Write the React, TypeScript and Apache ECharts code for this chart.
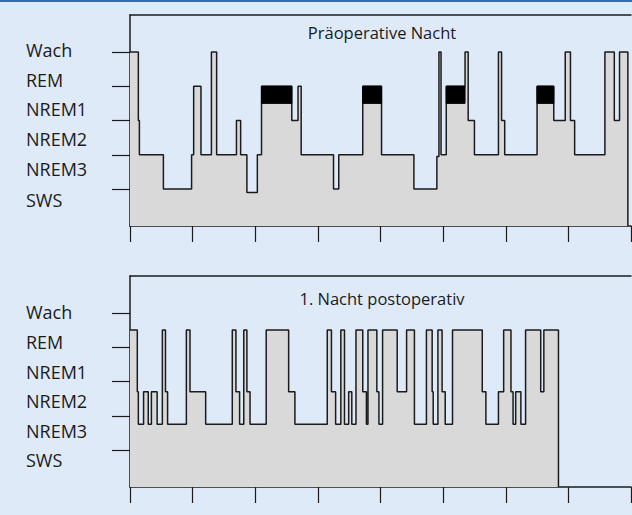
import React, { useEffect, useRef } from "react";
import * as echarts from "echarts";

// Stage labels (left side, top to bottom)
const stageLabels = ["Wach", "REM", "NREM1", "NREM2", "NREM3", "SWS"];
const stageTickValues = [1, 2, 3, 4, 5];
const panelTitles = ["Präoperative Nacht", "1. Nacht postoperativ"];

// x: minutes since start of recording (8 h window)
const hourTicks = [0, 60, 120, 180, 240, 300, 360, 420, 480];

// Preoperative night: time at which each stage begins, and its level (0 = end of recording)
const preTimes = [0, 8, 9, 32, 59, 61, 68, 78, 83, 102, 106, 112, 122, 126, 155, 161, 164, 195, 200, 223, 241, 272, 294, 296, 298, 303, 321, 324, 330, 353, 356, 359, 390, 406, 417, 422, 426, 455, 464, 469, 477];
const preStages = [5, 3, 2, 1, 2, 4, 2, 5, 2, 3, 2, 0.9, 2, 4, 3, 4, 2, 1, 2, 4, 2, 1, 1.95, 5, 2, 4, 5, 3, 2, 5, 3, 2, 4, 3, 5, 3, 2, 5, 3, 5, 0];

// REM periods highlighted in black (preoperative night)
const remStart = [126, 223, 303, 390];
const remEnd = [155, 241, 321, 406];
const remBandLow = 3.5;
const remBandHigh = 4;

// First postoperative night
const postTimes = [0, 7, 8, 13, 17.5, 20.5, 26, 31, 34, 36, 54, 57.5, 72.5, 98, 101.5, 105, 109, 112, 115, 130.5, 152, 158, 189, 193, 197, 202, 205.5, 209.5, 212.5, 216.5, 223, 226.5, 228, 236.5, 238.5, 242, 256, 265, 272.5, 284, 289.5, 290.5, 295, 299, 302, 309, 337.5, 341, 353, 358, 365, 367, 369.5, 374.5, 379, 393.5, 396.5, 410.5];
const postStages = [4.5, 2.7, 1.75, 2.7, 1.75, 2.7, 1.75, 4.5, 2.7, 1.75, 4.5, 2.7, 1.75, 4.5, 2.7, 1.75, 4.5, 2.7, 1.75, 4.5, 2.7, 1.75, 4.5, 2.7, 1.75, 4.5, 1.75, 2.7, 1.75, 4.5, 2.7, 1.75, 4.5, 2.7, 1.75, 4.5, 2.7, 4.5, 1.75, 4.5, 2.7, 1.75, 4.5, 2.7, 1.75, 4.5, 2.7, 1.75, 2.7, 4.5, 2.7, 1.75, 2.7, 1.75, 4.5, 2.7, 4.5, 0];

const BG = "#deeaf8";
const FONT = "'Open Sans', 'Noto Sans', sans-serif";
const INK = "#1b1b1b";

export default function App() {
  const ref = useRef<HTMLDivElement>(null);

  useEffect(() => {
    if (!ref.current) return;
    const chart = echarts.init(ref.current, undefined, { renderer: "svg" });

    const grids = [
      { left: 130, top: 15, width: 501, height: 211 },
      { left: 130, top: 276, width: 501, height: 211 },
    ];

    const yMin = -0.08;
    const yMax = 6.08;

    const xAxes: any[] = [];
    const yAxes: any[] = [];
    grids.forEach((_, gi) => {
      xAxes.push({
        type: "value",
        gridIndex: gi,
        min: hourTicks[0],
        max: hourTicks[hourTicks.length - 1],
        interval: 60,
        position: "bottom",
        axisLine: { show: true, onZero: false, lineStyle: { color: INK, width: 1.5 } },
        axisTick: { show: true, length: 16, lineStyle: { color: INK, width: 1.2 } },
        axisLabel: { show: false },
        splitLine: { show: false },
      });
      xAxes.push({
        type: "value",
        gridIndex: gi,
        min: hourTicks[0],
        max: hourTicks[hourTicks.length - 1],
        position: "top",
        axisLine: { show: true, onZero: false, lineStyle: { color: INK, width: 1.5 } },
        axisTick: { show: false },
        axisLabel: { show: false },
        splitLine: { show: false },
      });
      yAxes.push({
        type: "value",
        gridIndex: gi,
        min: yMin,
        max: yMax,
        axisLine: { show: true, onZero: false, lineStyle: { color: INK, width: 1.5 } },
        axisTick: {
          show: true,
          length: 18,
          customValues: stageTickValues,
          lineStyle: { color: INK, width: 1.2 },
        },
        axisLabel: { show: false },
        splitLine: { show: false },
      });
    });

    const stepSeries = (times: number[], stages: number[], xi: number, yi: number) => ({
      type: "line",
      xAxisIndex: xi,
      yAxisIndex: yi,
      step: "end",
      symbol: "none",
      data: times.map((t, i) => [t, stages[i] === 0 ? yMin : stages[i]]),
      lineStyle: { color: INK, width: 1.5 },
      areaStyle: { color: "#d9d9d9", opacity: 1, origin: "start" },
      z: 2,
    });

    const graphics: any[] = [
      { type: "rect", left: 0, top: 0, shape: { x: 0, y: 0, width: 632, height: 2 }, style: { fill: "#2c6fb6" } },
    ];
    const labelYs = [
      [50, 80, 109, 139, 169, 200],
      [312, 342, 372, 401, 431, 460],
    ];
    labelYs.forEach((ys) => {
      stageLabels.forEach((lab, i) => {
        graphics.push({
          type: "text",
          x: 26,
          y: ys[i],
          style: {
            text: lab,
            font: `18px ${FONT}`,
            fill: INK,
            textAlign: "left",
            textVerticalAlign: "middle",
          },
        });
      });
    });
    const titleYs = [32, 298];
    panelTitles.forEach((t, i) => {
      graphics.push({
        type: "text",
        x: 382,
        y: titleYs[i],
        style: {
          text: t,
          font: `16.5px ${FONT}`,
          fill: INK,
          textAlign: "center",
          textVerticalAlign: "middle",
        },
      });
    });

    chart.setOption({
      animation: false,
      backgroundColor: BG,
      grid: grids,
      xAxis: xAxes,
      yAxis: yAxes,
      graphic: graphics,
      series: [
        stepSeries(preTimes, preStages, 0, 0),
        {
          type: "custom",
          xAxisIndex: 0,
          yAxisIndex: 0,
          z: 5,
          data: remStart.map((s, i) => [s, remEnd[i], remBandLow, remBandHigh]),
          renderItem: (_params: any, api: any) => {
            const p1 = api.coord([api.value(0), api.value(3)]);
            const p2 = api.coord([api.value(1), api.value(2)]);
            return {
              type: "rect",
              shape: { x: p1[0], y: p1[1], width: p2[0] - p1[0], height: p2[1] - p1[1] },
              style: { fill: "#000000", stroke: "#000000", lineWidth: 1 },
            };
          },
        },
        stepSeries(postTimes, postStages, 2, 1),
      ],
    });

    return () => chart.dispose();
  }, []);

  return (
    <div
      ref={ref}
      style={{ position: "absolute", left: 0, top: 0, width: 632, height: 515 }}
    />
  );
}
